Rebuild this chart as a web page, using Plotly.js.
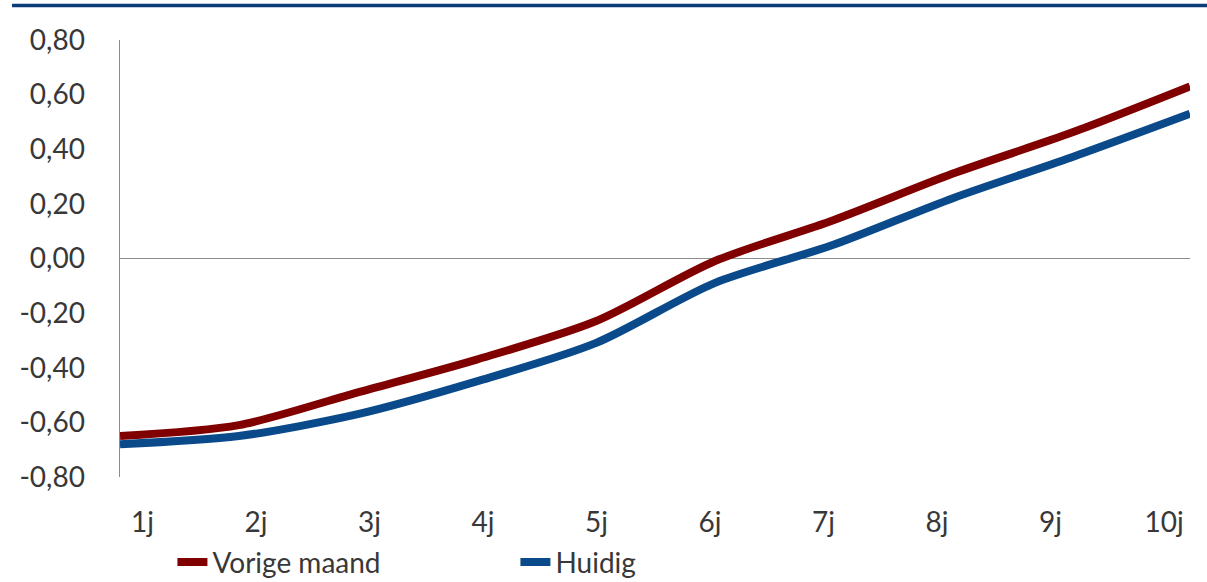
<!DOCTYPE html>
<html>
<head>
<meta charset="utf-8">
<script src="https://cdn.plot.ly/plotly-3.0.1.min.js"></script>
<style>
html,body{margin:0;padding:0;background:#fff;}
#chart{width:1207px;height:582px;}
</style>
</head>
<body>
<div id="chart"></div>
<script>
// Data
const tenors = [1, 2, 3, 4, 5, 6, 7, 8, 9, 10];
const tickLabels = ["1j", "2j", "3j", "4j", "5j", "6j", "7j", "8j", "9j", "10j"];
const vorigeMaand = [-0.65, -0.61, -0.49, -0.37, -0.23, -0.01, 0.14, 0.31, 0.46, 0.63];
const huidig = [-0.68, -0.65, -0.57, -0.45, -0.31, -0.09, 0.05, 0.22, 0.37, 0.53];
const yTicks = [-0.8, -0.6, -0.4, -0.2, 0, 0.2, 0.4, 0.6, 0.8];
const yTickLabels = ["-0,80", "-0,60", "-0,40", "-0,20", "0,00", "0,20", "0,40", "0,60", "0,80"];

const font = "Lato, 'Open Sans', sans-serif";
const textColor = "#383838";

const traces = [
  {
    x: tenors, y: vorigeMaand, name: "Vorige maand", type: "scatter", mode: "lines",
    line: {color: "#800000", width: 8, shape: "spline", smoothing: 0.8},
    xaxis: "x", yaxis: "y"
  },
  {
    x: tenors, y: huidig, name: "Huidig", type: "scatter", mode: "lines",
    line: {color: "#0b4a8a", width: 8, shape: "spline", smoothing: 0.8},
    xaxis: "x", yaxis: "y"
  }
];

const layout = {
  width: 1207, height: 582,
  margin: {l: 120, r: 17, t: 40, b: 105, autoexpand: false},
  paper_bgcolor: "#ffffff", plot_bgcolor: "#ffffff",
  font: {family: font, color: textColor, size: 28},
  showlegend: true,
  legend: {
    orientation: "h", x: 0.049, xanchor: "left", y: -0.138, yanchor: "top",
    font: {family: font, size: 28, color: textColor},
    entrywidth: 298, entrywidthmode: "pixels",
    itemwidth: 30, tracegroupgap: 0, bgcolor: "rgba(0,0,0,0)"
  },
  xaxis: {
    range: [1, 10], showgrid: false, zeroline: false, showline: false,
    showticklabels: false, ticks: "", fixedrange: true
  },
  xaxis2: {
    overlaying: "x", anchor: "y", side: "bottom",
    range: [0.802, 10.229],
    tickmode: "array", tickvals: tenors, ticktext: tickLabels,
    showgrid: false, zeroline: false, showline: false, ticks: "",
    ticklabelstandoff: 26,
    tickfont: {family: font, size: 28, color: textColor}
  },
  yaxis: {
    range: [-0.8, 0.8],
    tickmode: "array", tickvals: yTicks, ticktext: yTickLabels,
    showgrid: false, showline: true, linecolor: "#8c8c8c", linewidth: 1.5,
    zeroline: true, zerolinecolor: "#8c8c8c", zerolinewidth: 1.5,
    ticks: "", ticklabelstandoff: 28,
    tickfont: {family: font, size: 28, color: textColor}
  },
  shapes: [
    {type: "line", xref: "paper", yref: "paper",
     x0: -0.1009, x1: 1.02, y0: 1.079, y1: 1.079,
     line: {color: "#0a3d78", width: 3.5}}
  ]
};

// empty trace so the label axis is drawn (no visible marks)
traces.push({x: [], y: [], xaxis: "x2", yaxis: "y", showlegend: false, hoverinfo: "skip", type: "scatter"});

Plotly.newPlot("chart", traces, layout, {displayModeBar: false, staticPlot: true});
</script>
</body>
</html>
